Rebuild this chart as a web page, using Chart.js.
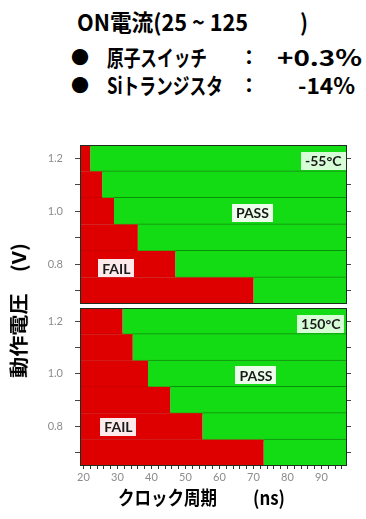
<!DOCTYPE html>
<html><head><meta charset="utf-8">
<script src="https://cdn.jsdelivr.net/npm/chart.js@4"></script>
<style>
html,body{margin:0;padding:0;background:#fff;}
#wrap{position:relative;width:366px;height:519px;overflow:hidden;background:#fff;}
canvas{position:absolute;left:0;}
</style></head>
<body>
<div id="wrap">
<canvas id="c1" width="366" height="165" style="top:140px;width:366px;height:165px"></canvas>
<canvas id="c2" width="366" height="213" style="top:306px;width:366px;height:213px"></canvas>
</div>
<script>
// ---- data ----
const voltages = [1.2, 1.1, 1.0, 0.9, 0.8, 0.7];          // operating voltage rows (V)
const failEdgeCold = [22, 25.5, 29, 36, 47, 70];          // -55°C: FAIL up to this clock period (ns)
const failEdgeHot  = [31.5, 34.5, 39, 45.5, 55, 73];      // 150°C
const clockRange = [19, 97.5];                            // x axis range (ns)
const voltRange = [0.65, 1.25];                           // y axis range (V)
const xTickLabels = [20, 30, 40, 50, 60, 70, 80, 90];
const yTickMarks = [0.7, 0.8, 0.9, 1.0, 1.1, 1.2];
const yTickLabels = [0.8, 1.0, 1.2];
const tempLabels = ['-55°C', '150°C'];
const regionLabels = ['PASS', 'FAIL'];

// ---- styling ----
const RED = '#de0000', GREEN = '#14dc14';
const TICK_COLOR = '#8c8c8c';

const labelPlugin = {
  id: 'panelLabels',
  afterDraw(chart, args, opts) {
    const ctx = chart.ctx, a = chart.chartArea;
    ctx.save();
    ctx.strokeStyle = '#1e2e1e';
    ctx.lineWidth = 1;
    ctx.strokeRect(a.left + 0.5, a.top + 0.5, a.right - a.left - 1, a.bottom - a.top - 1);
    const xs = chart.scales.x, ys = chart.scales.y;
    (opts.items || []).forEach(it => {
      ctx.font = 'bold 14px Lato, "Noto Sans CJK JP", sans-serif';
      const tw = ctx.measureText(it.text).width;
      const cx = xs.getPixelForValue(it.x), cy = ys.getPixelForValue(it.y);
      const bw = tw + 8, bh = 18;
      ctx.fillStyle = it.bg || 'rgba(255,255,255,0.92)';
      ctx.fillRect(Math.round(cx - bw / 2), Math.round(cy - bh / 2), Math.round(bw), bh);
      ctx.fillStyle = '#1a1a1a';
      ctx.textAlign = 'center';
      ctx.textBaseline = 'middle';
      ctx.fillText(it.text, cx, cy + 1);
    });
    ctx.restore();
  }
};

function makePanel(id, edges, items, showX, padTop, padBottom) {
  const common = { grouped: false, barPercentage: 1, categoryPercentage: 1, borderSkipped: false, inflateAmount: 1,
                   borderWidth: { top: 1, bottom: 1, left: 0, right: 0 } };
  const yTicksFix = s => { s.ticks = yTickMarks.map(v => ({ value: v })); };
  const noVPad = w => s => { s.width = w; s.paddingTop = 0; s.paddingBottom = 0; };
  return new Chart(document.getElementById(id), {
    type: 'bar',
    data: {
      datasets: [
        Object.assign({ label: regionLabels[1], backgroundColor: RED, borderColor: 'rgba(150,0,0,0.25)',
          data: voltages.map((v, i) => ({ y: v, x: [clockRange[0], edges[i]] })) }, common),
        Object.assign({ label: regionLabels[0], backgroundColor: GREEN, borderColor: 'rgba(0,95,0,0.6)',
          data: voltages.map((v, i) => ({ y: v, x: [edges[i], clockRange[1]] })) }, common)
      ]
    },
    options: {
      indexAxis: 'y',
      responsive: false,
      animation: false,
      events: [],
      layout: { padding: { left: 0, right: 0, top: padTop, bottom: padBottom } },
      plugins: { legend: { display: false }, tooltip: { enabled: false }, panelLabels: { items } },
      scales: {
        x: {
          type: 'linear', min: clockRange[0], max: clockRange[1], position: 'bottom', z: 1, offset: false,
          ticks: { display: showX, stepSize: 2, includeBounds: false, autoSkip: false, maxRotation: 0, minRotation: 0, padding: 2,
                   color: TICK_COLOR, font: { size: 11, family: 'Lato' },
                   callback: v => xTickLabels.includes(v) ? String(v) : '' },
          grid: { offset: false, color: 'rgba(255,255,255,0.22)', drawTicks: showX, tickLength: 3, tickColor: '#333' },
          border: { display: false },
          afterFit: s => { s.height = showX ? 53 : 0; s.paddingLeft = 0; s.paddingRight = 0; }
        },
        y: {
          type: 'linear', min: voltRange[0], max: voltRange[1], position: 'left', offset: false,
          afterBuildTicks: yTicksFix,
          ticks: { autoSkip: false, padding: 12, color: TICK_COLOR, font: { size: 11, family: 'Lato' },
                   callback: v => yTickLabels.some(t => Math.abs(t - v) < 1e-6) ? Number(v).toFixed(1) : '' },
          grid: { offset: false, drawOnChartArea: false, tickLength: 5, tickColor: '#444' },
          border: { display: false },
          afterFit: noVPad(80)
        },
        yR: {
          type: 'linear', min: voltRange[0], max: voltRange[1], position: 'right', offset: false,
          afterBuildTicks: yTicksFix,
          ticks: { display: false },
          grid: { offset: false, drawOnChartArea: false, tickLength: 4, tickColor: '#444' },
          border: { display: false },
          afterFit: noVPad(19)
        }
      }
    },
    plugins: [labelPlugin]
  });
}

makePanel('c1', failEdgeCold, [
  { text: regionLabels[0], x: 69.7, y: 0.995 },
  { text: regionLabels[1], x: 29.7, y: 0.785 },
  { text: tempLabels[0], x: 90.5, y: 1.19, bg: 'rgba(232,255,232,0.92)' }
], false, 5, 1);

makePanel('c2', failEdgeHot, [
  { text: regionLabels[0], x: 70.75, y: 0.995 },
  { text: regionLabels[1], x: 30.3, y: 0.8 },
  { text: tempLabels[1], x: 89.8, y: 1.19, bg: 'rgba(232,255,232,0.92)' }
], true, 2, 0);

// ---- HTML text (title, axis titles) ----
const wrap = document.getElementById('wrap');
const FONT = '"Noto Sans CJK JP",sans-serif';
const texts = [
  { t: 'ON電流(25 ~ 125', l: 77, r: 248, cy: 23, fs: 23 },
  { t: ')', l: 300, r: 308, cy: 23, fs: 23 },
  { t: '●', cx: 80, cy: 57, fs: 18 },
  { t: '原子スイッチ', l: 107, r: 207, cy: 57, fs: 22 },
  { t: '：', cx: 249, cy: 58, fs: 20 },
  { t: '+0.3%', l: 277, r: 362, cy: 57, fs: 22 },
  { t: '●', cx: 80, cy: 85, fs: 18 },
  { t: 'Siトランジスタ', l: 107, r: 223, cy: 85, fs: 22 },
  { t: '：', cx: 249, cy: 86, fs: 20 },
  { t: '-14%', l: 298, r: 355, cy: 85, fs: 22 },
  { t: 'クロック周期', l: 118, r: 217, cy: 498, fs: 19 },
  { t: '(ns)', l: 253, r: 285, cy: 498, fs: 19 },
  { t: '動作電圧　(V)', vertical: true, cx: 18, cy: 310, len: 135, fs: 19 }
];
texts.forEach(o => {
  const s = document.createElement('span');
  s.textContent = o.t;
  s.style.cssText = `position:absolute;white-space:nowrap;font:700 ${o.fs}px ${FONT};line-height:1;color:#000;z-index:5;`;
  wrap.appendChild(s);
  const b = s.getBoundingClientRect();
  if (o.vertical) {
    s.style.left = (o.cx - b.width / 2) + 'px';
    s.style.top = (o.cy - b.height / 2) + 'px';
    s.style.transformOrigin = '50% 50%';
    s.style.transform = `rotate(-90deg) scaleX(${o.len / b.width})`;
  } else if (o.cx !== undefined) {
    s.style.left = (o.cx - b.width / 2) + 'px';
    s.style.top = (o.cy - 0.56 * o.fs) + 'px';
  } else {
    s.style.left = o.l + 'px';
    s.style.top = (o.cy - 0.56 * o.fs) + 'px';
    s.style.transformOrigin = '0 50%';
    s.style.transform = `scaleX(${(o.r - o.l) / b.width})`;
  }
});
</script>
</body></html>
